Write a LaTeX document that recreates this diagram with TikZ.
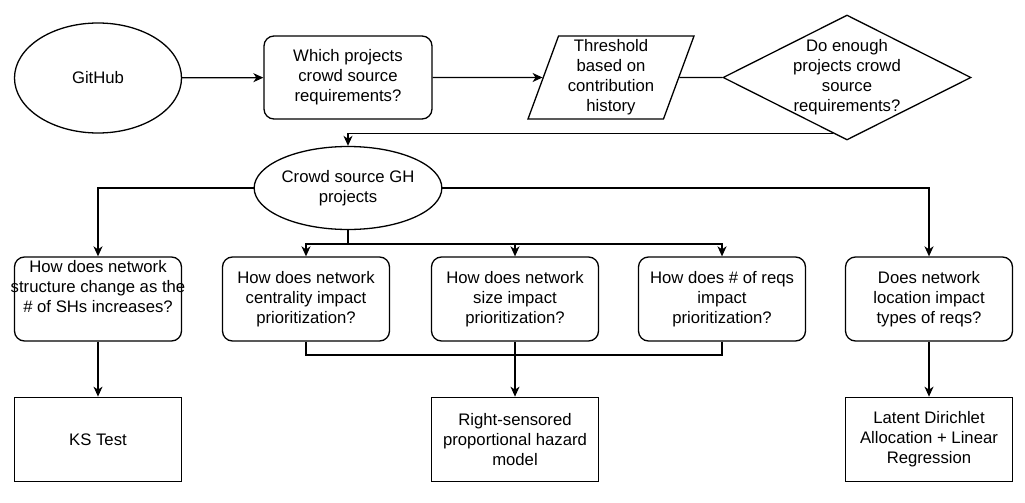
\documentclass[tikz,border=0pt]{standalone}
\usepackage{fontspec}
\setmainfont{Liberation Sans}
\usetikzlibrary{arrows.meta,shapes,shapes.geometric,positioning}

\begin{document}
\begin{tikzpicture}[x=1pt,y=-1pt,>={Stealth[length=10pt,width=9pt,inset=3pt]},line width=1.3pt,
  every node/.style={font=\fontsize{16.7}{20}\selectfont,align=center,inner sep=0pt}]
  \tikzstyle{source}=[ellipse,draw,minimum width=167pt,minimum height=110pt]
  \tikzstyle{subset}=[ellipse,draw,minimum width=167pt,minimum height=83pt]
  \tikzstyle{question}=[rectangle,rounded corners=10pt,draw,minimum width=167pt,minimum height=84pt]
  \tikzstyle{method}=[rectangle,draw,line width=1.6pt,minimum width=167pt,minimum height=84pt]
  \tikzstyle{data}=[trapezium,draw,trapezium left angle=68,trapezium right angle=112,
  			  trapezium stretches body,minimum width=166pt,minimum height=83pt]
  \tikzstyle{decision}=[diamond,draw,minimum width=248pt,minimum height=125pt]
  \useasboundingbox (0,0) rectangle (1025,503);
  % top row
  \node [source] (github) at (98,78) {GitHub};
  \node [question,minimum width=168pt,minimum height=83pt] (which) at (348,77.5)
    {Which projects\\crowd source\\requirements?};
  \node [data] (thresh) at (611,77.5) {Threshold\\based on\\contribution\\history};
  \node [decision] (enough) at (847,77.5) {};
  \node (enoughtxt) at (enough) {Do enough\\projects crowd\\source\\requirements?};
  \node [subset] (crowd) at (348,188) {Crowd source GH\\projects};
  % questions
  \node [question] (struct) at (98,299) {};
  \node (structtxt) at (98,287) {How does network\\\makebox[0pt]{structure change as the}\\\# of SHs increases?};
  \node [question] (central) at (306,299) {How does network\\centrality impact\\prioritization?};
  \node [question] (size) at (515,299) {How does network\\size impact\\prioritization?};
  \node [question] (reqs) at (722,299) {How does \# of reqs\\impact\\prioritization?};
  \node [question] (location) at (929,299) {Does network\\location impact\\types of reqs?};
  % methods
  \node [method] (ks) [below=55pt of struct] {KS Test};
  \node [method] (hazard) [below=55pt of size] {Right-sensored\\proportional hazard\\model};
  \node [method] (lda) [below=55pt of location] {Latent Dirichlet\\Allocation + Linear\\Regression};
  \coordinate (split) at (348,244);
  \coordinate (merge) at (515,355);

  \draw [->] (github) -- (which);
  \draw [->] (which) -- (thresh);
  \draw (thresh) -- (enough);
  \draw [->] (enough.256) -| (crowd.north);
  \draw [->] (crowd.west) -| (struct.north);
  \draw [->] (crowd.east) -| (location.north);
  \draw (crowd.south) -- (split);
  \draw [->] (split) -| (central.north);
  \draw [->] (split) -| (size.north);
  \draw [->] (split) -| (reqs.north);
  \draw (central.south) |- (merge);
  \draw (reqs.south) |- (merge);
  \draw [->] (size.south) -- (hazard.north);
  \draw [->] (struct) -- (ks);
  \draw [->] (location) -- (lda);
\end{tikzpicture}
\end{document}
